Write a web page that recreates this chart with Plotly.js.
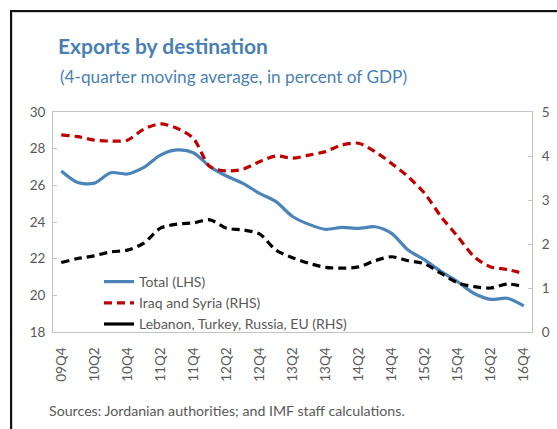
<!DOCTYPE html>
<html>
<head>
<meta charset="utf-8">
<script src="https://cdn.plot.ly/plotly-3.0.1.min.js"></script>
<style>
  html, body { margin: 0; padding: 0; background: #fff; }
  #wrap { position: relative; width: 557px; height: 429px; overflow: hidden; }
  #chart { position: absolute; left: 0; top: 0; width: 557px; height: 429px; }
  #frame { position: absolute; left: 10px; top: 10px; width: 600px; height: 500px;
           border-left: 2px solid #111; border-top: 2px solid #111;
           box-shadow: inset 1px 1px 0 #d0d0d0; pointer-events: none; }
</style>
</head>
<body>
<div id="wrap">
  <div id="chart"></div>
  <div id="frame"></div>
</div>
<script>
const quarters = ["09Q4","10Q1","10Q2","10Q3","10Q4","11Q1","11Q2","11Q3","11Q4",
  "12Q1","12Q2","12Q3","12Q4","13Q1","13Q2","13Q3","13Q4","14Q1","14Q2","14Q3","14Q4",
  "15Q1","15Q2","15Q3","15Q4","16Q1","16Q2","16Q3","16Q4"];
const totalLHS = [26.78, 26.15, 26.12, 26.69, 26.62, 26.98, 27.65, 27.93, 27.78,
  27.02, 26.51, 26.11, 25.56, 25.11, 24.3, 23.87, 23.6, 23.71, 23.65, 23.74, 23.38,
  22.47, 21.93, 21.29, 20.74, 20.1, 19.78, 19.84, 19.42];
const iraqSyriaRHS = [4.48, 4.44, 4.36, 4.34, 4.36, 4.61, 4.73, 4.63, 4.4,
  3.76, 3.66, 3.7, 3.87, 4.0, 3.95, 4.02, 4.1, 4.25, 4.29, 4.1, 3.83,
  3.53, 3.15, 2.62, 2.17, 1.71, 1.48, 1.42, 1.33];
const lebTurRusEuRHS = [1.58, 1.67, 1.73, 1.82, 1.86, 2.02, 2.36, 2.45, 2.48,
  2.55, 2.36, 2.32, 2.23, 1.86, 1.69, 1.56, 1.47, 1.45, 1.48, 1.62, 1.71,
  1.62, 1.55, 1.33, 1.12, 1.03, 1.0, 1.09, 1.03];
const labelQuarters = quarters.filter((q, i) => i % 2 === 0);
const seriesNames = ["Total (LHS)", "Iraq and Syria (RHS)", "Lebanon, Turkey, Russia, EU (RHS)"];
const titleText = "Exports by destination";
const subtitleText = "(4-quarter moving average, in percent of GDP)";
const sourceText = "Sources: Jordanian authorities; and IMF staff calculations.";

const FONT = "Lato, 'Open Sans', sans-serif";
const GRAY = "#595959";
const AXC = "#c4c4c4";

const boundaryTicks = [];
for (let i = 3; i < quarters.length - 1; i += 4) boundaryTicks.push(i + 0.5);

const traces = [
  { x: quarters, y: totalLHS, name: seriesNames[0], type: "scatter", mode: "lines",
    line: { color: "#4a84b9", width: 3.2, shape: "spline", smoothing: 0.8 }, yaxis: "y" },
  { x: quarters, y: iraqSyriaRHS, name: seriesNames[1], type: "scatter", mode: "lines",
    line: { color: "#c00000", width: 3.2, dash: "8px,5px", shape: "spline", smoothing: 0.8 }, yaxis: "y2" },
  { x: quarters, y: lebTurRusEuRHS, name: seriesNames[2], type: "scatter", mode: "lines",
    line: { color: "#000000", width: 3.2, dash: "8px,5px", shape: "spline", smoothing: 0.8 }, yaxis: "y2",
    legendgroup: "leb", showlegend: false },
  { x: [null], y: [null], name: seriesNames[2], type: "scatter", mode: "lines",
    line: { color: "#000000", width: 3.2 }, yaxis: "y2", legendgroup: "leb", showlegend: true,
    hoverinfo: "skip" }
];

const layout = {
  width: 557, height: 429,
  margin: { l: 53, r: 25, t: 112, b: 97 },
  paper_bgcolor: "#fff", plot_bgcolor: "#fff",
  font: { family: FONT, size: 13, color: GRAY },
  showlegend: true,
  legend: { x: 0.096, y: 0.30, xanchor: "left", yanchor: "top", bgcolor: "rgba(0,0,0,0)",
            font: { family: FONT, size: 14, color: GRAY }, tracegroupgap: 0 },
  title: { text: "<b>" + titleText + "</b>", font: { family: FONT, size: 21, color: "#4a7fb5" },
           x: 58/557, xref: "container", xanchor: "left", y: 1 - 47/429, yref: "container", yanchor: "middle" },
  xaxis: { type: "category", range: [-0.5, 28.5], tickvals: labelQuarters, ticktext: labelQuarters,
           tickangle: -90, ticks: "", showgrid: false, zeroline: false,
           showline: true, linecolor: AXC, linewidth: 1, mirror: true,
           tickfont: { family: FONT, size: 13.5, color: GRAY }, ticklabelstandoff: 9 },
  xaxis2: { overlaying: "x", anchor: "y", side: "bottom", type: "linear", range: [-0.5, 28.5],
            tickvals: boundaryTicks, ticks: "inside", ticklen: 4, tickcolor: AXC,
            showticklabels: false, showgrid: false, zeroline: false, showline: false },
  yaxis: { range: [18, 30], dtick: 2, tick0: 18, ticks: "inside", ticklen: 4, tickcolor: AXC,
           showgrid: false, zeroline: false, showline: true, linecolor: AXC, linewidth: 1,
           tickfont: { family: FONT, size: 13.5, color: GRAY }, ticklabelstandoff: 4 },
  yaxis2: { range: [0, 5], dtick: 1, tick0: 0, overlaying: "y", side: "right", ticks: "inside", ticklen: 4,
            tickcolor: AXC, showgrid: false, zeroline: false, showline: true, linecolor: AXC, linewidth: 1,
            tickfont: { family: FONT, size: 13.5, color: GRAY }, ticklabelstandoff: 6 },
  annotations: [
    { text: subtitleText, xref: "paper", yref: "paper", x: (58-53)/479, y: 1 + (112-77)/220,
      xanchor: "left", yanchor: "middle", showarrow: false,
      font: { family: FONT, size: 17.2, color: "#4a7fb5" } },
    { text: sourceText, xref: "paper", yref: "paper", x: (47-53)/479, y: -(410-332)/220,
      xanchor: "left", yanchor: "middle", showarrow: false,
      font: { family: FONT, size: 14.2, color: GRAY } }
  ]
};

Plotly.newPlot("chart", traces, layout, { displayModeBar: false, staticPlot: true });
</script>
</body>
</html>
